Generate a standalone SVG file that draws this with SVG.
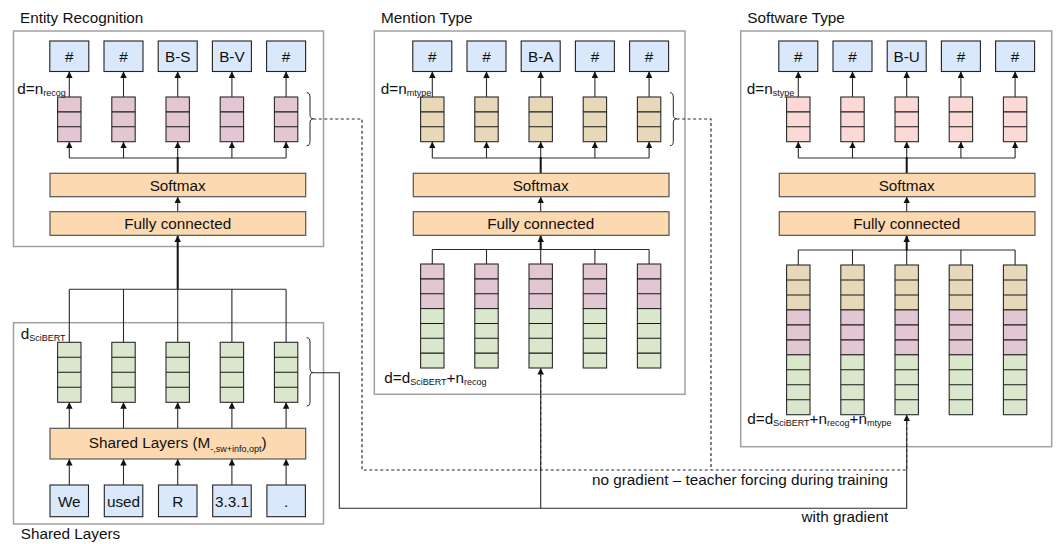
<svg xmlns="http://www.w3.org/2000/svg" width="1056" height="544" viewBox="0 0 1056 544">
  <defs>
    <marker id="arrow" viewBox="0 0 6 6" refX="6" refY="3" markerWidth="6.5" markerHeight="6.5" markerUnits="userSpaceOnUse" orient="auto">
      <path d="M0,0 L6,3 L0,6 z" fill="#111"/>
    </marker>
    <style>
      text { font-family: "Liberation Sans", Arial, sans-serif; fill: #111111; }
      .title { font-size: 15.3px; }
      .lbl { font-size: 15.3px; text-anchor: middle; }
      .dim { font-size: 15.3px; }
      .sub { font-size: 9px; }
      .panel { fill: #ffffff; stroke: #a0a0a0; stroke-width: 1.5; }
      .tag { fill: #dae8fc; stroke: #222222; stroke-width: 1.1; }
      .layer { fill: #fcd9b0; stroke: #555555; stroke-width: 1.2; }
      .recog { fill: #e2c6d2; stroke: #2a2a2a; stroke-width: 1.1; }
      .mtype { fill: #e7d8b9; stroke: #2a2a2a; stroke-width: 1.1; }
      .stype { fill: #fad9d7; stroke: #2a2a2a; stroke-width: 1.1; }
      .bert { fill: #dbe7cc; stroke: #2a2a2a; stroke-width: 1.1; }
      .cell { stroke: #1a1a1a; stroke-width: 1.1; fill: none; }
      .link { fill: none; stroke: #2a2a2a; stroke-width: 1.1; }
      .thick { fill: none; stroke: #111111; stroke-width: 2; }
      .dash { fill: none; stroke: #2a2a2a; stroke-width: 1.2; stroke-dasharray: 3 2.5; }
      .brace { fill: none; stroke: #222222; stroke-width: 1; }
    </style>
  </defs>

  <!-- ===== Panels ===== -->
  <g id="panel-entity-recognition">
    <rect class="panel" x="13.5" y="31" width="310" height="215.5"/>
    <text class="title" x="20" y="23">Entity Recognition</text>
  </g>
  <g id="panel-mention-type">
    <rect class="panel" x="374.3" y="31" width="310.7" height="363.3"/>
    <text class="title" x="381" y="23">Mention Type</text>
  </g>
  <g id="panel-software-type">
    <rect class="panel" x="740.7" y="31" width="311" height="415.7"/>
    <text class="title" x="747.3" y="23">Software Type</text>
  </g>
  <g id="panel-shared-layers">
    <rect class="panel" x="13.5" y="322.7" width="310" height="201.3"/>
    <text class="title" x="20.7" y="539">Shared Layers</text>
  </g>

  <!-- ===== Connectors ===== -->
  <g id="connectors">
    <!-- entity recognition head -->
    <path class="link" d="M69.3 158 H286.1"/>
    <path class="link" marker-end="url(#arrow)" d="M69.3 158 V141.7"/>
    <path class="link" marker-end="url(#arrow)" d="M123.5 158 V141.7"/>
    <path class="link" marker-end="url(#arrow)" d="M177.7 158 V141.7"/>
    <path class="link" marker-end="url(#arrow)" d="M231.9 158 V141.7"/>
    <path class="link" marker-end="url(#arrow)" d="M286.1 158 V141.7"/>
    <path class="link" marker-end="url(#arrow)" d="M69.3 97 V71.5"/>
    <path class="link" marker-end="url(#arrow)" d="M123.5 97 V71.5"/>
    <path class="link" marker-end="url(#arrow)" d="M177.7 97 V71.5"/>
    <path class="link" marker-end="url(#arrow)" d="M231.9 97 V71.5"/>
    <path class="link" marker-end="url(#arrow)" d="M286.1 97 V71.5"/>
    <path class="thick" d="M177.7 173.3 V157"/>
    <path class="link" marker-end="url(#arrow)" d="M177.7 211.7 V196.7"/>
    <path class="thick" marker-end="url(#arrow)" d="M177.7 289.3 V235.5"/>

    <!-- shared layers -->
    <path class="link" d="M69.3 289.3 H286.1 M69.3 289.3 V342.3 M123.5 289.3 V342.3 M177.7 289.3 V342.3 M231.9 289.3 V342.3 M286.1 289.3 V342.3"/>
    <path class="link" marker-end="url(#arrow)" d="M69.3 428.3 V402.3"/>
    <path class="link" marker-end="url(#arrow)" d="M123.5 428.3 V402.3"/>
    <path class="link" marker-end="url(#arrow)" d="M177.7 428.3 V402.3"/>
    <path class="link" marker-end="url(#arrow)" d="M231.9 428.3 V402.3"/>
    <path class="link" marker-end="url(#arrow)" d="M286.1 428.3 V402.3"/>
    <path class="link" marker-end="url(#arrow)" d="M69.3 485 V459"/>
    <path class="link" marker-end="url(#arrow)" d="M123.5 485 V459"/>
    <path class="link" marker-end="url(#arrow)" d="M177.7 485 V459"/>
    <path class="link" marker-end="url(#arrow)" d="M231.9 485 V459"/>
    <path class="link" marker-end="url(#arrow)" d="M286.1 485 V459"/>

    <!-- mention type head -->
    <path class="link" marker-end="url(#arrow)" d="M432.3 97 V71.5"/>
    <path class="link" marker-end="url(#arrow)" d="M486.5 97 V71.5"/>
    <path class="link" marker-end="url(#arrow)" d="M540.7 97 V71.5"/>
    <path class="link" marker-end="url(#arrow)" d="M594.9 97 V71.5"/>
    <path class="link" marker-end="url(#arrow)" d="M649.1 97 V71.5"/>
    <path class="link" d="M432.3 158 H649.1"/>
    <path class="link" marker-end="url(#arrow)" d="M432.3 158 V141.7"/>
    <path class="link" marker-end="url(#arrow)" d="M486.5 158 V141.7"/>
    <path class="link" marker-end="url(#arrow)" d="M540.7 158 V141.7"/>
    <path class="link" marker-end="url(#arrow)" d="M594.9 158 V141.7"/>
    <path class="link" marker-end="url(#arrow)" d="M649.1 158 V141.7"/>
    <path class="thick" d="M540.7 173.3 V157"/>
    <path class="link" marker-end="url(#arrow)" d="M540.7 211.7 V196.7"/>
    <path class="link" d="M432.3 249.5 H649.1 M432.3 249.5 V264 M486.5 249.5 V264 M540.7 249.5 V264 M594.9 249.5 V264 M649.1 249.5 V264"/>
    <path class="thick" marker-end="url(#arrow)" d="M540.7 250 V235.5"/>

    <!-- software type head -->
    <path class="link" marker-end="url(#arrow)" d="M798.3 97 V71.5"/>
    <path class="link" marker-end="url(#arrow)" d="M852.5 97 V71.5"/>
    <path class="link" marker-end="url(#arrow)" d="M906.7 97 V71.5"/>
    <path class="link" marker-end="url(#arrow)" d="M960.9 97 V71.5"/>
    <path class="link" marker-end="url(#arrow)" d="M1015.1 97 V71.5"/>
    <path class="link" d="M798.3 158 H1015.1"/>
    <path class="link" marker-end="url(#arrow)" d="M798.3 158 V141.7"/>
    <path class="link" marker-end="url(#arrow)" d="M852.5 158 V141.7"/>
    <path class="link" marker-end="url(#arrow)" d="M906.7 158 V141.7"/>
    <path class="link" marker-end="url(#arrow)" d="M960.9 158 V141.7"/>
    <path class="link" marker-end="url(#arrow)" d="M1015.1 158 V141.7"/>
    <path class="thick" d="M906.7 173.3 V157"/>
    <path class="link" marker-end="url(#arrow)" d="M906.7 211.7 V196.7"/>
    <path class="link" d="M798.3 250 H1015.1 M798.3 250 V265 M852.5 250 V265 M906.7 250 V265 M960.9 250 V265 M1015.1 250 V265"/>
    <path class="thick" marker-end="url(#arrow)" d="M906.7 250.5 V235.5"/>

    <!-- shared encoding fed forward (with gradient) -->
    <path class="link" marker-end="url(#arrow)" d="M313.3 372.7 H339.3 V508.3 H906.7 V414.7"/>
    <path class="link" marker-end="url(#arrow)" d="M540.7 508.3 V368"/>

    <!-- predicted labels fed forward (no gradient) -->
    <path class="dash" d="M313.3 119 H362 V470 H906.7 V418"/>
    <path class="dash" d="M676.6 119 H711 V470"/>
    <path class="dash" d="M540.7 470 V372"/>

    <text class="dim" x="592" y="484.5">no gradient – teacher forcing during training</text>
    <text class="dim" x="801.5" y="522">with gradient</text>
  </g>

  <!-- ===== Entity recognition head ===== -->
  <g id="er-outputs">
    <rect class="tag" x="49.8" y="41" width="39" height="30.5"/><text class="lbl" x="69.3" y="61.5">#</text>
    <rect class="tag" x="104" y="41" width="39" height="30.5"/><text class="lbl" x="123.5" y="61.5">#</text>
    <rect class="tag" x="158.2" y="41" width="39" height="30.5"/><text class="lbl" x="177.7" y="61.5">B-S</text>
    <rect class="tag" x="212.4" y="41" width="39" height="30.5"/><text class="lbl" x="231.9" y="61.5">B-V</text>
    <rect class="tag" x="266.6" y="41" width="39" height="30.5"/><text class="lbl" x="286.1" y="61.5">#</text>
  </g>
  <g id="er-vectors">
    <rect class="recog" x="57.6" y="97" width="23.4" height="44.7"/>
    <rect class="recog" x="111.8" y="97" width="23.4" height="44.7"/>
    <rect class="recog" x="166" y="97" width="23.4" height="44.7"/>
    <rect class="recog" x="220.2" y="97" width="23.4" height="44.7"/>
    <rect class="recog" x="274.4" y="97" width="23.4" height="44.7"/>
    <path class="cell" d="M57.6 111.9 h23.4 M57.6 126.8 h23.4 M111.8 111.9 h23.4 M111.8 126.8 h23.4 M166 111.9 h23.4 M166 126.8 h23.4 M220.2 111.9 h23.4 M220.2 126.8 h23.4 M274.4 111.9 h23.4 M274.4 126.8 h23.4"/>
    <text class="dim" x="17.3" y="94.3">d=n<tspan class="sub" dy="2">recog</tspan></text>
  </g>
  <g id="er-brace">
    <path class="brace" d="M306.7 92.7 Q310 92.7 310 97 V114.5 Q310 118.8 313.3 118.8 Q310 118.8 310 123.1 V141.4 Q310 145.7 306.7 145.7"/>
  </g>
  <g id="er-softmax">
    <rect class="layer" x="50" y="173.3" width="255.7" height="23.4"/>
    <text class="lbl" x="177.7" y="190.5">Softmax</text>
  </g>
  <g id="er-fc">
    <rect class="layer" x="50" y="211.7" width="255.7" height="23.6"/>
    <text class="lbl" x="177.7" y="229">Fully connected</text>
  </g>

  <!-- ===== Shared layers ===== -->
  <g id="shared-vectors">
    <rect class="bert" x="57.6" y="342.3" width="23.4" height="60"/>
    <rect class="bert" x="111.8" y="342.3" width="23.4" height="60"/>
    <rect class="bert" x="166" y="342.3" width="23.4" height="60"/>
    <rect class="bert" x="220.2" y="342.3" width="23.4" height="60"/>
    <rect class="bert" x="274.4" y="342.3" width="23.4" height="60"/>
    <path class="cell" d="M57.6 357.3 h23.4 M57.6 372.3 h23.4 M57.6 387.3 h23.4 M111.8 357.3 h23.4 M111.8 372.3 h23.4 M111.8 387.3 h23.4 M166 357.3 h23.4 M166 372.3 h23.4 M166 387.3 h23.4 M220.2 357.3 h23.4 M220.2 372.3 h23.4 M220.2 387.3 h23.4 M274.4 357.3 h23.4 M274.4 372.3 h23.4 M274.4 387.3 h23.4"/>
    <text class="dim" x="20.7" y="339.3">d<tspan class="sub" dy="1.5">SciBERT</tspan></text>
  </g>
  <g id="shared-brace">
    <path class="brace" d="M306.7 337.7 Q310 337.7 310 342 V368.3 Q310 372.6 313.3 372.6 Q310 372.6 310 376.9 V401.7 Q310 406 306.7 406"/>
  </g>
  <g id="shared-encoder">
    <rect class="layer" x="50" y="428.3" width="255.7" height="30.7"/>
    <text class="lbl" x="177.7" y="448">Shared Layers (M<tspan class="sub" dy="3.5">-,sw+info,opt</tspan><tspan dy="-3.5">)</tspan></text>
  </g>
  <g id="shared-inputs">
    <rect class="tag" x="50" y="485" width="38.5" height="31.7"/><text class="lbl" x="69.3" y="506.5">We</text>
    <rect class="tag" x="104.3" y="485" width="38.5" height="31.7"/><text class="lbl" x="123.5" y="506.5">used</text>
    <rect class="tag" x="158.5" y="485" width="38.5" height="31.7"/><text class="lbl" x="177.7" y="506.5">R</text>
    <rect class="tag" x="212.7" y="485" width="38.5" height="31.7"/><text class="lbl" x="231.9" y="506.5">3.3.1</text>
    <rect class="tag" x="266.9" y="485" width="38.5" height="31.7"/><text class="lbl" x="286.1" y="506.5">.</text>
  </g>

  <!-- ===== Mention type head ===== -->
  <g id="mt-outputs">
    <rect class="tag" x="412.8" y="41" width="39" height="30.5"/><text class="lbl" x="432.3" y="61.5">#</text>
    <rect class="tag" x="467" y="41" width="39" height="30.5"/><text class="lbl" x="486.5" y="61.5">#</text>
    <rect class="tag" x="521.2" y="41" width="39" height="30.5"/><text class="lbl" x="540.7" y="61.5">B-A</text>
    <rect class="tag" x="575.4" y="41" width="39" height="30.5"/><text class="lbl" x="594.9" y="61.5">#</text>
    <rect class="tag" x="629.6" y="41" width="39" height="30.5"/><text class="lbl" x="649.1" y="61.5">#</text>
  </g>
  <g id="mt-vectors">
    <rect class="mtype" x="420.6" y="97" width="23.4" height="44.7"/>
    <rect class="mtype" x="474.8" y="97" width="23.4" height="44.7"/>
    <rect class="mtype" x="529" y="97" width="23.4" height="44.7"/>
    <rect class="mtype" x="583.2" y="97" width="23.4" height="44.7"/>
    <rect class="mtype" x="637.4" y="97" width="23.4" height="44.7"/>
    <path class="cell" d="M420.6 111.9 h23.4 M420.6 126.8 h23.4 M474.8 111.9 h23.4 M474.8 126.8 h23.4 M529 111.9 h23.4 M529 126.8 h23.4 M583.2 111.9 h23.4 M583.2 126.8 h23.4 M637.4 111.9 h23.4 M637.4 126.8 h23.4"/>
    <text class="dim" x="380.7" y="94.3">d=n<tspan class="sub" dy="2">mtype</tspan></text>
  </g>
  <g id="mt-brace">
    <path class="brace" d="M670 92.7 Q673.3 92.7 673.3 97 V114.5 Q673.3 118.8 676.6 118.8 Q673.3 118.8 673.3 123.1 V141.4 Q673.3 145.7 670 145.7"/>
  </g>
  <g id="mt-softmax">
    <rect class="layer" x="413.3" y="173.3" width="255.7" height="23.4"/>
    <text class="lbl" x="540.7" y="190.5">Softmax</text>
  </g>
  <g id="mt-fc">
    <rect class="layer" x="413.3" y="211.7" width="255.7" height="23.6"/>
    <text class="lbl" x="540.7" y="229">Fully connected</text>
  </g>
  <g id="mt-inputs">
    <rect class="recog" x="420.6" y="264" width="23.4" height="44.57"/>
    <rect class="recog" x="474.8" y="264" width="23.4" height="44.57"/>
    <rect class="recog" x="529" y="264" width="23.4" height="44.57"/>
    <rect class="recog" x="583.2" y="264" width="23.4" height="44.57"/>
    <rect class="recog" x="637.4" y="264" width="23.4" height="44.57"/>
    <rect class="bert" x="420.6" y="308.57" width="23.4" height="59.43"/>
    <rect class="bert" x="474.8" y="308.57" width="23.4" height="59.43"/>
    <rect class="bert" x="529" y="308.57" width="23.4" height="59.43"/>
    <rect class="bert" x="583.2" y="308.57" width="23.4" height="59.43"/>
    <rect class="bert" x="637.4" y="308.57" width="23.4" height="59.43"/>
    <path class="cell" d="M420.6 278.86 h23.4 M420.6 293.71 h23.4 M420.6 323.43 h23.4 M420.6 338.29 h23.4 M420.6 353.14 h23.4
                         M474.8 278.86 h23.4 M474.8 293.71 h23.4 M474.8 323.43 h23.4 M474.8 338.29 h23.4 M474.8 353.14 h23.4
                         M529 278.86 h23.4 M529 293.71 h23.4 M529 323.43 h23.4 M529 338.29 h23.4 M529 353.14 h23.4
                         M583.2 278.86 h23.4 M583.2 293.71 h23.4 M583.2 323.43 h23.4 M583.2 338.29 h23.4 M583.2 353.14 h23.4
                         M637.4 278.86 h23.4 M637.4 293.71 h23.4 M637.4 323.43 h23.4 M637.4 338.29 h23.4 M637.4 353.14 h23.4"/>
    <text class="dim" x="384.3" y="383.3">d=d<tspan class="sub" dy="2">SciBERT</tspan><tspan dy="-2">+n</tspan><tspan class="sub" dy="2">recog</tspan></text>
  </g>

  <!-- ===== Software type head ===== -->
  <g id="st-outputs">
    <rect class="tag" x="778.8" y="41" width="39" height="30.5"/><text class="lbl" x="798.3" y="61.5">#</text>
    <rect class="tag" x="833" y="41" width="39" height="30.5"/><text class="lbl" x="852.5" y="61.5">#</text>
    <rect class="tag" x="887.2" y="41" width="39" height="30.5"/><text class="lbl" x="906.7" y="61.5">B-U</text>
    <rect class="tag" x="941.4" y="41" width="39" height="30.5"/><text class="lbl" x="960.9" y="61.5">#</text>
    <rect class="tag" x="995.6" y="41" width="39" height="30.5"/><text class="lbl" x="1015.1" y="61.5">#</text>
  </g>
  <g id="st-vectors">
    <rect class="stype" x="786.6" y="97" width="23.4" height="44.7"/>
    <rect class="stype" x="840.8" y="97" width="23.4" height="44.7"/>
    <rect class="stype" x="895" y="97" width="23.4" height="44.7"/>
    <rect class="stype" x="949.2" y="97" width="23.4" height="44.7"/>
    <rect class="stype" x="1003.4" y="97" width="23.4" height="44.7"/>
    <path class="cell" d="M786.6 111.9 h23.4 M786.6 126.8 h23.4 M840.8 111.9 h23.4 M840.8 126.8 h23.4 M895 111.9 h23.4 M895 126.8 h23.4 M949.2 111.9 h23.4 M949.2 126.8 h23.4 M1003.4 111.9 h23.4 M1003.4 126.8 h23.4"/>
    <text class="dim" x="746.7" y="94.3">d=n<tspan class="sub" dy="2">stype</tspan></text>
  </g>
  <g id="st-softmax">
    <rect class="layer" x="779.3" y="173.3" width="255.7" height="23.4"/>
    <text class="lbl" x="906.7" y="190.5">Softmax</text>
  </g>
  <g id="st-fc">
    <rect class="layer" x="779.3" y="211.7" width="255.7" height="23.6"/>
    <text class="lbl" x="906.7" y="229">Fully connected</text>
  </g>
  <g id="st-inputs">
    <rect class="mtype" x="786.6" y="265" width="23.4" height="44.91"/>
    <rect class="mtype" x="840.8" y="265" width="23.4" height="44.91"/>
    <rect class="mtype" x="895" y="265" width="23.4" height="44.91"/>
    <rect class="mtype" x="949.2" y="265" width="23.4" height="44.91"/>
    <rect class="mtype" x="1003.4" y="265" width="23.4" height="44.91"/>
    <rect class="recog" x="786.6" y="309.91" width="23.4" height="44.91"/>
    <rect class="recog" x="840.8" y="309.91" width="23.4" height="44.91"/>
    <rect class="recog" x="895" y="309.91" width="23.4" height="44.91"/>
    <rect class="recog" x="949.2" y="309.91" width="23.4" height="44.91"/>
    <rect class="recog" x="1003.4" y="309.91" width="23.4" height="44.91"/>
    <rect class="bert" x="786.6" y="354.82" width="23.4" height="59.88"/>
    <rect class="bert" x="840.8" y="354.82" width="23.4" height="59.88"/>
    <rect class="bert" x="895" y="354.82" width="23.4" height="59.88"/>
    <rect class="bert" x="949.2" y="354.82" width="23.4" height="59.88"/>
    <rect class="bert" x="1003.4" y="354.82" width="23.4" height="59.88"/>
    <path class="cell" d="M786.6 279.97 h23.4 M786.6 294.94 h23.4 M786.6 324.88 h23.4 M786.6 339.85 h23.4 M786.6 369.79 h23.4 M786.6 384.76 h23.4 M786.6 399.73 h23.4
                         M840.8 279.97 h23.4 M840.8 294.94 h23.4 M840.8 324.88 h23.4 M840.8 339.85 h23.4 M840.8 369.79 h23.4 M840.8 384.76 h23.4 M840.8 399.73 h23.4
                         M895 279.97 h23.4 M895 294.94 h23.4 M895 324.88 h23.4 M895 339.85 h23.4 M895 369.79 h23.4 M895 384.76 h23.4 M895 399.73 h23.4
                         M949.2 279.97 h23.4 M949.2 294.94 h23.4 M949.2 324.88 h23.4 M949.2 339.85 h23.4 M949.2 369.79 h23.4 M949.2 384.76 h23.4 M949.2 399.73 h23.4
                         M1003.4 279.97 h23.4 M1003.4 294.94 h23.4 M1003.4 324.88 h23.4 M1003.4 339.85 h23.4 M1003.4 369.79 h23.4 M1003.4 384.76 h23.4 M1003.4 399.73 h23.4"/>
    <text class="dim" x="747.3" y="424.3">d=d<tspan class="sub" dy="2">SciBERT</tspan><tspan dy="-2">+n</tspan><tspan class="sub" dy="2">recog</tspan><tspan dy="-2">+n</tspan><tspan class="sub" dy="2">mtype</tspan></text>
  </g>
</svg>
